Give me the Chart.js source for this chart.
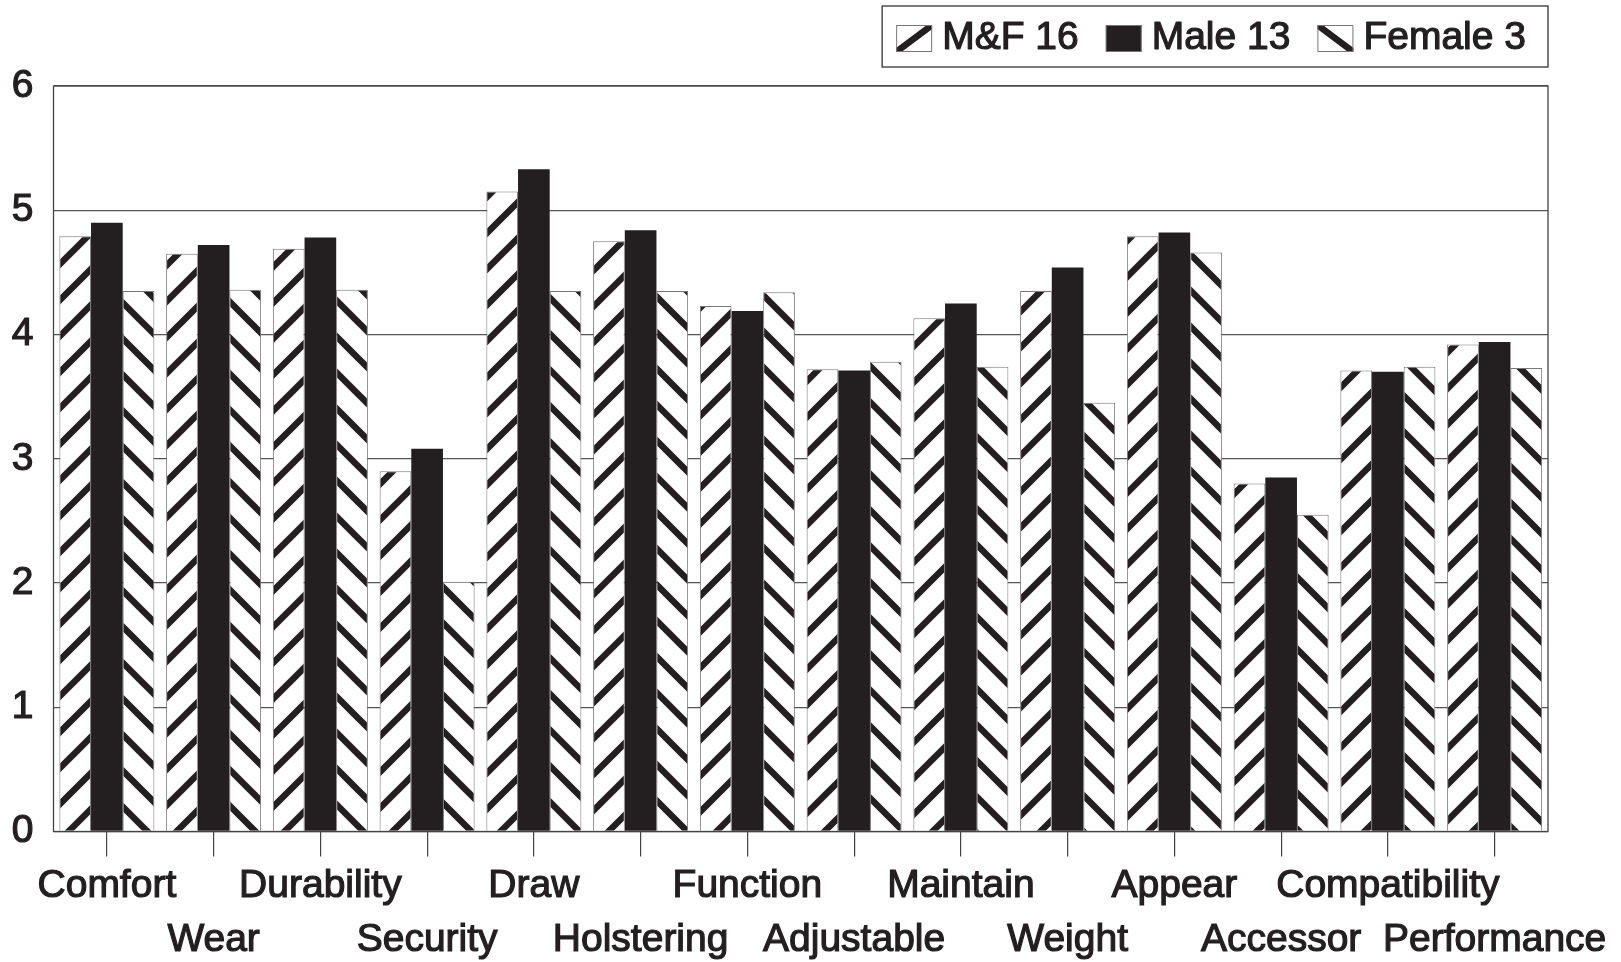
<!DOCTYPE html>
<html><head><meta charset="utf-8">
<script src="https://cdn.jsdelivr.net/npm/chart.js@4.4.1/dist/chart.umd.min.js"></script>
<style>html,body{margin:0;padding:0;background:#fff;} canvas{display:block;}</style>
</head><body>
<canvas id="c" width="1621" height="962"></canvas>
<script>
const categories = ['Comfort','Wear','Durability','Security','Draw','Holstering','Function','Adjustable','Maintain','Weight','Appear','Accessor','Compatibility','Performance'];
const seriesNames = ['M&F 16','Male 13','Female 3'];
const mfValues     = [4.79, 4.65, 4.69, 2.90, 5.15, 4.75, 4.23, 3.72, 4.13, 4.35, 4.79, 2.80, 3.71, 3.92];
const maleValues   = [4.90, 4.72, 4.78, 3.08, 5.33, 4.84, 4.19, 3.71, 4.25, 4.54, 4.82, 2.85, 3.70, 3.94];
const femaleValues = [4.35, 4.36, 4.36, 2.01, 4.35, 4.35, 4.34, 3.78, 3.74, 3.45, 4.66, 2.55, 3.74, 3.73];
const yMin = 0, yMax = 6, yStep = 1;

const INK = '#231f20';
const FONT = "'Liberation Sans', Arial, Helvetica, sans-serif";
const canvas = document.getElementById('c');
const mainCtx = canvas.getContext('2d');

function makeStripe(dir) {
  const T = 36;
  const c = document.createElement('canvas'); c.width = T; c.height = T;
  const g = c.getContext('2d');
  g.fillStyle = '#fff'; g.fillRect(0, 0, T, T);
  g.strokeStyle = INK; g.lineWidth = 6.5;
  g.beginPath();
  if (dir === '/') {
    for (const k of [0, T, 2 * T]) { g.moveTo(k + 12, -12); g.lineTo(k - T - 12, T + 12); }
  } else {
    for (const k of [-T, 0, T]) { g.moveTo(k - 12, -12); g.lineTo(k + T + 12, T + 12); }
  }
  g.stroke();
  return mainCtx.createPattern(c, 'repeat');
}
const patSlash = makeStripe('/');
const patBack = makeStripe('\\');

const framePlugin = {
  id: 'frame',
  afterDatasetsDraw(chart) {
    const { ctx, chartArea: a } = chart;
    ctx.save();
    ctx.strokeStyle = '#444'; ctx.lineWidth = 1.3;
    ctx.strokeRect(a.left, a.top, a.right - a.left, a.bottom - a.top);
    ctx.restore();
  }
};

const legendPlugin = {
  id: 'boxLegend',
  afterDraw(chart) {
    const ctx = chart.ctx;
    const ds = chart.data.datasets;
    ctx.save();
    ctx.font = '39px ' + FONT;
    const sw = 36, sh = 27, gapST = 10, gapItem = 27, padL = 14, padR = 22;
    const widths = ds.map(d => ctx.measureText(d.label).width);
    let total = padL + padR;
    widths.forEach((w, i) => { total += sw + gapST + w + (i < widths.length - 1 ? gapItem : 0); });
    const right = chart.chartArea.right, top = 6, bottom = 67;
    const left = right - total;
    ctx.fillStyle = '#fff'; ctx.fillRect(left, top, total, bottom - top);
    ctx.strokeStyle = '#333'; ctx.lineWidth = 1.3;
    ctx.strokeRect(left, top, total, bottom - top);
    const cy = (top + bottom) / 2 + 2;
    let x = left + padL;
    ds.forEach((d, i) => {
      const sy = cy - sh / 2;
      ctx.save();
      ctx.beginPath(); ctx.rect(x, sy, sw, sh); ctx.clip();
      if (d.legendKind === 'solid') {
        ctx.fillStyle = INK; ctx.fillRect(x, sy, sw, sh);
      } else {
        ctx.fillStyle = '#fff'; ctx.fillRect(x, sy, sw, sh);
        ctx.strokeStyle = INK; ctx.lineWidth = 6.5;
        ctx.beginPath();
        if (d.legendKind === '/') { ctx.moveTo(x, sy + sh); ctx.lineTo(x + sw, sy); }
        else { ctx.moveTo(x, sy); ctx.lineTo(x + sw, sy + sh); }
        ctx.stroke();
      }
      ctx.restore();
      ctx.strokeStyle = '#777'; ctx.lineWidth = 1;
      ctx.strokeRect(x + 0.5, sy + 0.5, sw - 1, sh - 1);
      x += sw + gapST;
      ctx.fillStyle = INK; ctx.textBaseline = 'middle'; ctx.textAlign = 'left';
      ctx.strokeStyle = INK; ctx.lineWidth = 1.2; ctx.lineJoin = 'round';
      ctx.strokeText(d.label, x, cy);
      ctx.fillText(d.label, x, cy);
      x += widths[i] + gapItem;
    });
    ctx.restore();
  }
};

new Chart(canvas, {
  type: 'bar',
  data: {
    labels: categories,
    datasets: [
      { label: seriesNames[0], data: mfValues, backgroundColor: patSlash, borderColor: '#777', borderWidth: 1, legendKind: '/' },
      { label: seriesNames[1], data: maleValues, backgroundColor: INK, borderColor: INK, borderWidth: 0, legendKind: 'solid' },
      { label: seriesNames[2], data: femaleValues, backgroundColor: patBack, borderColor: '#777', borderWidth: 1, legendKind: '\\' }
    ]
  },
  options: {
    responsive: false,
    animation: false,
    devicePixelRatio: 1,
    categoryPercentage: 0.89,
    barPercentage: 1.0,
    layout: { padding: { top: 86, left: 0, right: 73, bottom: 0 } },
    plugins: { legend: { display: false }, tooltip: { enabled: false } },
    scales: {
      x: {
        offset: true,
        grid: { offset: false, drawOnChartArea: false, drawTicks: true, tickLength: 25, color: '#444', lineWidth: 1.2 },
        border: { display: false },
        ticks: {
          autoSkip: false, maxRotation: 0, minRotation: 0, padding: 2, color: INK,
          textStrokeColor: INK, textStrokeWidth: 1.2,
          font: { family: FONT, size: 39, lineHeight: 1.4 },
          callback: (v, i) => (i % 2 ? ['', categories[i]] : categories[i])
        },
        afterFit: (s) => { s.height = 130.5; s.paddingLeft = 0; s.paddingRight = 0; }
      },
      y: {
        min: yMin, max: yMax,
        grid: { color: '#555', lineWidth: 1.3, drawTicks: false },
        border: { display: false },
        ticks: { stepSize: yStep, padding: 20, color: INK, textStrokeColor: INK, textStrokeWidth: 1.2, font: { family: FONT, size: 39 } },
        afterFit: (s) => { s.width = 53.5; s.paddingTop = 0; s.paddingBottom = 0; }
      }
    }
  },
  plugins: [framePlugin, legendPlugin]
});
</script>
</body></html>
